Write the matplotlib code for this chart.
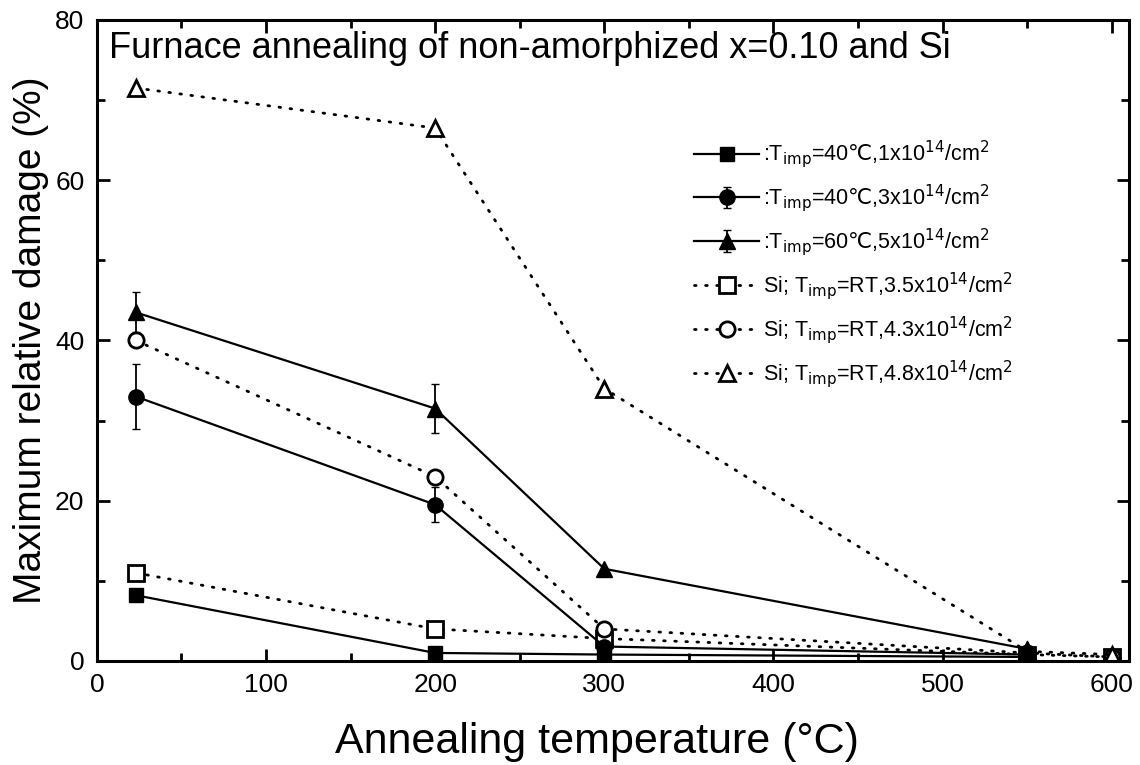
import matplotlib
matplotlib.use("Agg")
import matplotlib.pyplot as plt
from matplotlib.ticker import MultipleLocator

plt.rcParams['font.family'] = ['Liberation Sans', 'DejaVu Sans']
plt.rcParams['mathtext.fontset'] = 'dejavusans'

# ---- data ----
x_filled = [23, 200, 300, 550]
x_open = [23, 200, 300, 550, 600]

sq_filled = [8.2, 1.0, 0.8, 0.5]
ci_filled = [33.0, 19.5, 1.8, 0.8]
ci_filled_err = [4.0, 2.2, 0, 0]
tr_filled = [43.5, 31.5, 11.5, 1.5]
tr_filled_err = [2.5, 3.0, 0, 0]

sq_open = [11.0, 4.0, 2.8, 0.8, 0.5]
ci_open = [40.0, 23.0, 4.0, 1.0, 0.5]
tr_open = [71.5, 66.5, 34.0, 1.2, 0.8]

labels = [
    r":T$_{\mathrm{imp}}$=40$\mathrm{℃}$,1x10$^{14}$/cm$^{2}$",
    r":T$_{\mathrm{imp}}$=40$\mathrm{℃}$,3x10$^{14}$/cm$^{2}$",
    r":T$_{\mathrm{imp}}$=60$\mathrm{℃}$,5x10$^{14}$/cm$^{2}$",
    r"Si; T$_{\mathrm{imp}}$=RT,3.5x10$^{14}$/cm$^{2}$",
    r"Si; T$_{\mathrm{imp}}$=RT,4.3x10$^{14}$/cm$^{2}$",
    r"Si; T$_{\mathrm{imp}}$=RT,4.8x10$^{14}$/cm$^{2}$",
]
title_text = "Furnace annealing of non-amorphized x=0.10 and Si"
xlabel = "Annealing temperature (°C)"
ylabel = "Maximum relative damage (%)"

fig = plt.figure(figsize=(11.4, 7.65), dpi=100)
ax = fig.add_axes([0.085, 0.136, 0.905, 0.838])

solid = dict(color='black', lw=1.6, linestyle='-')
dot = dict(color='black', lw=2.0, linestyle=(0, (0.6, 3.4)), dash_capstyle='round')

h1, = ax.plot(x_filled, sq_filled, marker='s', ms=10, mfc='black', mec='black', label=labels[0], **solid)
h2 = ax.errorbar(x_filled, ci_filled, yerr=ci_filled_err, marker='o', ms=11, mfc='black', mec='black',
                 ecolor='black', elinewidth=1.3, capsize=3, label=labels[1], **solid)
h3 = ax.errorbar(x_filled, tr_filled, yerr=tr_filled_err, marker='^', ms=12, mfc='black', mec='black',
                 ecolor='black', elinewidth=1.3, capsize=3, label=labels[2], **solid)
h4, = ax.plot(x_open, sq_open, marker='s', ms=11, mfc='white', mec='black', mew=2, label=labels[3], **dot)
h5, = ax.plot(x_open, ci_open, marker='o', ms=11, mfc='white', mec='black', mew=2, label=labels[4], **dot)
h6, = ax.plot(x_open, tr_open, marker='^', ms=12, mfc='white', mec='black', mew=2, label=labels[5], **dot)

ax.set_xlim(0, 610)
ax.set_ylim(0, 80)
ax.xaxis.set_major_locator(MultipleLocator(100))
ax.xaxis.set_minor_locator(MultipleLocator(50))
ax.yaxis.set_major_locator(MultipleLocator(20))
ax.yaxis.set_minor_locator(MultipleLocator(10))
ax.tick_params(which='both', direction='in', top=True, right=True, width=2, labelsize=19, pad=9)
ax.tick_params(which='major', length=9)
ax.tick_params(which='minor', length=6)
for s in ax.spines.values():
    s.set_linewidth(2.2)

ax.set_xlabel(xlabel, fontsize=31)
ax.xaxis.set_label_coords(0.485, -0.095)
ax.set_ylabel(ylabel, fontsize=28, labelpad=4)
ax.text(0.012, 0.982, title_text, transform=ax.transAxes, fontsize=26, va='top', ha='left')

leg = ax.legend(handles=[h1, h2, h3, h4, h5, h6], loc='upper left', bbox_to_anchor=(0.579, 0.815),
                frameon=False, fontsize=15.5, handlelength=3.0, handletextpad=0.2,
                labelspacing=0.55, borderaxespad=0, borderpad=0)

fig.savefig("out.png", dpi=100)
